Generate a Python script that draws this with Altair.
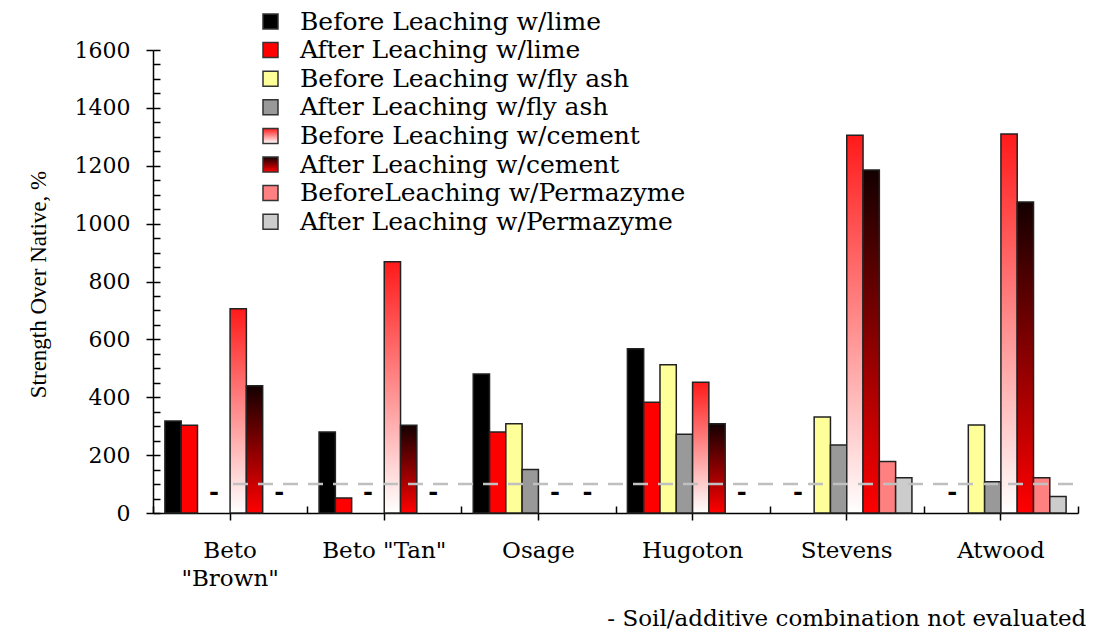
import altair as alt
import pandas as pd

soils = ['Beto "Brown"', 'Beto "Tan"', "Osage", "Hugoton", "Stevens", "Atwood"]
series = [
    "Before Leaching w/lime",
    "After Leaching w/lime",
    "Before Leaching w/fly ash",
    "After Leaching w/fly ash",
    "Before Leaching w/cement",
    "After Leaching w/cement",
    "BeforeLeaching w/Permazyme",
    "After Leaching w/Permazyme",
]

lime_before = [318, 280, 480, 568, None, None]
lime_after = [303, 52, 280, 383, None, None]
flyash_before = [None, None, 308, 512, 332, 304]
flyash_after = [None, None, 150, 272, 235, 108]
cement_before = [706, 868, None, 452, 1305, 1310]
cement_after = [440, 303, None, 308, 1185, 1075]
perma_before = [None, None, None, None, 178, 122]
perma_after = [None, None, None, None, 122, 57]

all_values = [lime_before, lime_after, flyash_before, flyash_after,
              cement_before, cement_after, perma_before, perma_after]

# missing soil/additive combinations: (soil, after-slot of the pair)
missing_soil = ['Beto "Brown"', 'Beto "Brown"', 'Beto "Tan"', 'Beto "Tan"',
                "Osage", "Osage", "Hugoton", "Stevens", "Atwood"]
missing_slot = [series[3], series[7], series[3], series[7],
                series[5], series[7], series[7], series[1], series[1]]
missing_level = [70] * len(missing_soil)

ref_level = [100]

rows = []
for s, vals in zip(series, all_values):
    for soil, v in zip(soils, vals):
        if v is not None:
            rows.append({"soil": soil, "series": s, "value": v})
df = pd.DataFrame(rows)
dash_df = pd.DataFrame({"soil": missing_soil, "series": missing_slot, "value": missing_level})

grad_before = ("{gradient: 'linear', x1: 0, y1: 0, x2: 0, y2: 1, stops: "
               "[{offset: 0, color: '#ff1a1a'}, {offset: 1, color: '#ffffff'}]}")
grad_after = ("{gradient: 'linear', x1: 0, y1: 0, x2: 0, y2: 1, stops: "
              "[{offset: 0, color: '#140000'}, {offset: 1, color: '#ff0000'}]}")
colors = ["#000000", "#ff0000", "#ffff99", "#999999",
          {"expr": grad_before}, {"expr": grad_after}, "#ff8080", "#cccccc"]

SERIF = "DejaVu Serif"
W, H = 925, 463

x_scale = alt.Scale(domain=soils, paddingInner=0, paddingOuter=0)
xo_scale = alt.Scale(domain=series, paddingInner=0, paddingOuter=0.73)
y_scale = alt.Scale(domain=[0, 1600], nice=False)

x_axis = alt.Axis(
    title=None, orient="bottom", labelAngle=0, labelFont=SERIF, labelFontSize=23,
    labelColor="black", labelPadding=19, labelBaseline="top", labelLineHeight=28,
    tickSize=7, tickColor="black", tickWidth=1.5, domainColor="black", domainWidth=1.5,
    labelExpr="indexof(datum.value, 'Brown') >= 0 ? ['Beto', '\"Brown\"'] : datum.label",
)
y_axis = alt.Axis(
    title="Strength Over Native, %", orient="left", format="d",
    values=[0, 200, 400, 600, 800, 1000, 1200, 1400, 1600],
    labelFont=SERIF, labelFontSize=22, labelColor="black", labelPadding=16,
    tickSize=7, tickColor="black", tickWidth=1.5, domainColor="black", domainWidth=1.5,
    grid=False, titleFont="Liberation Serif", titleFontSize=23, titleFontWeight="normal",
    titleColor="black", titleAngle=-90, titleX=-115, titleY=234,
    titleAlign="center", titleBaseline="middle",
)

bars = alt.Chart(df).mark_bar(stroke="#222222", strokeWidth=1.5).encode(
    x=alt.X("soil:N", scale=x_scale, axis=x_axis, sort=soils),
    xOffset=alt.XOffset("series:N", scale=xo_scale, sort=series),
    y=alt.Y("value:Q", scale=y_scale, axis=y_axis),
    color=alt.Color(
        "series:N", sort=series,
        scale=alt.Scale(domain=series, range=colors),
        legend=alt.Legend(
            title=None, orient="none", legendX=105, legendY=-41,
            symbolType="square", symbolSize=225, symbolStrokeColor="#333333",
            symbolStrokeWidth=1.5, symbolOpacity=1,
            labelFont=SERIF, labelFontSize=25, labelColor="black",
            labelOffset=17, rowPadding=2.6, padding=0, labelLimit=600,
        ),
    ),
)

minor_ticks = alt.Chart(df).mark_point(opacity=0).encode(
    x=alt.X("soil:N", scale=x_scale, sort=soils, axis=alt.Axis(
        orient="bottom", title=None, labels=False, domain=False, tickBand="extent",
        offset=-7, tickSize=7, tickColor="black", tickWidth=1.5, grid=False)),
    y=alt.Y("value:Q", scale=y_scale, axis=alt.Axis(
        orient="left", title=None, labels=False, domain=False,
        values=list(range(0, 1601, 50)), offset=-7, tickSize=7,
        tickColor="black", tickWidth=1.5, grid=False)),
)

dashes = alt.Chart(dash_df).mark_text(
    text="-", font=SERIF, fontSize=24, fontWeight="bold", color="black",
    baseline="middle", dx=-8,
).encode(
    x=alt.X("soil:N", scale=x_scale, sort=soils, axis=None),
    xOffset=alt.XOffset("series:N", scale=xo_scale, sort=series),
    y=alt.Y("value:Q", scale=y_scale, axis=None),
)

ref_line = alt.Chart(pd.DataFrame({"v": ref_level})).mark_rule(
    color="#c0c0c0", strokeWidth=2.5, strokeDash=[15, 10],
).encode(
    y=alt.Y("v:Q", scale=y_scale, axis=None),
    x=alt.value(80),
    x2=alt.value(W),
)

chart = alt.layer(bars, minor_ticks, ref_line, dashes).resolve_axis(
    x="independent", y="independent"
).properties(
    width=W, height=H,
    padding={"left": 145, "top": 42, "right": 13, "bottom": 119},
    autosize=alt.AutoSizeParams(type="none"),
    title=alt.TitleParams(
        "- Soil/additive combination not evaluated", orient="bottom", anchor="end",
        font=SERIF, fontSize=23, fontWeight="normal", color="black",
        baseline="top", offset=18, dx=7,
    ),
).configure(
    background="white",
    view=alt.ViewConfig(stroke="transparent", strokeWidth=0),
)

chart.save("out.html", embed_options={"renderer": "svg", "actions": False})
